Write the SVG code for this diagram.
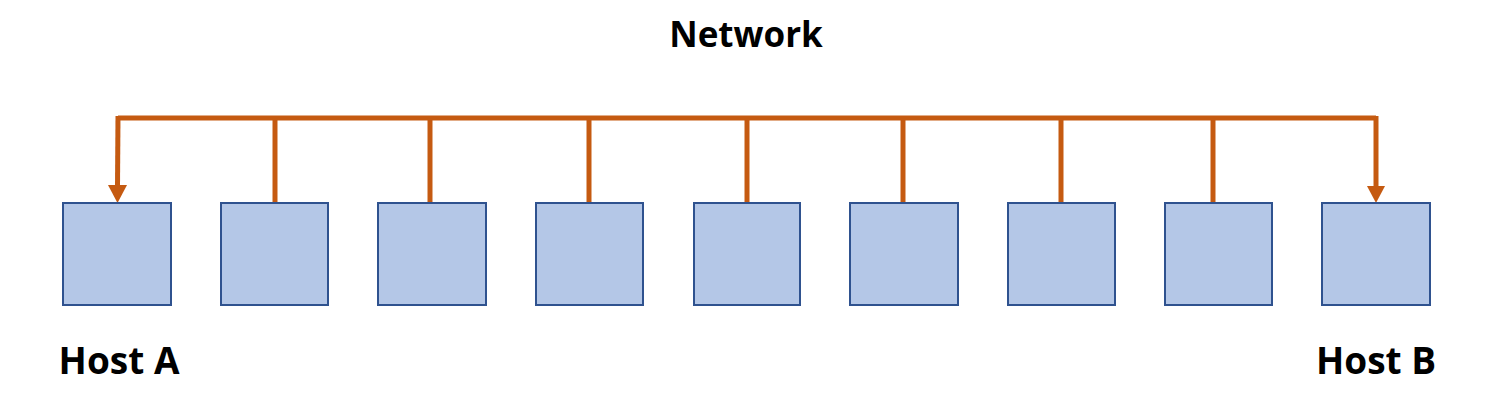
<svg xmlns="http://www.w3.org/2000/svg" width="1495" height="405" viewBox="0 0 1495 405">
<style>
.host{fill:#B4C7E7;stroke:#2F528F;stroke-width:2}
.wire{stroke:#C55A11;stroke-width:5;fill:none}
.lbl{font-family:"Open Sans","Noto Sans",sans-serif;font-weight:bold;font-size:37px;fill:#000;text-anchor:middle}
</style>
<rect width="1495" height="405" fill="#fff"/>
<g id="connectors">
<polyline class="wire" points="1376,118 118,118"/>
<path d="M118,116 L117.5,186" class="wire"/>
<path d="M108,185 L127,185 L117.5,203 Z" fill="#C55A11"/>
<path d="M1376,116 L1376,187" class="wire"/>
<path d="M1367,186 L1385,186 L1376,203 Z" fill="#C55A11"/>
<line class="wire" x1="275" y1="118" x2="275" y2="202"/>
<line class="wire" x1="430" y1="118" x2="430" y2="202"/>
<line class="wire" x1="589" y1="118" x2="589" y2="202"/>
<line class="wire" x1="747" y1="118" x2="747" y2="202"/>
<line class="wire" x1="903" y1="118" x2="903" y2="202"/>
<line class="wire" x1="1061" y1="118" x2="1061" y2="202"/>
<line class="wire" x1="1213" y1="118" x2="1213" y2="202"/>
</g>
<g id="host1"><rect class="host" x="63" y="203" width="108" height="102"/></g>
<g id="host2"><rect class="host" x="221" y="203" width="107" height="102"/></g>
<g id="host3"><rect class="host" x="378" y="203" width="108" height="102"/></g>
<g id="host4"><rect class="host" x="536" y="203" width="107" height="102"/></g>
<g id="host5"><rect class="host" x="694" y="203" width="106" height="102"/></g>
<g id="host6"><rect class="host" x="850" y="203" width="108" height="102"/></g>
<g id="host7"><rect class="host" x="1008" y="203" width="107" height="102"/></g>
<g id="host8"><rect class="host" x="1165" y="203" width="107" height="102"/></g>
<g id="host9"><rect class="host" x="1322" y="203" width="108" height="102"/></g>
<g id="network-label"><text class="lbl" x="746" y="47" style="font-size:35px">Network</text></g>
<g id="hostA-label"><text class="lbl" x="119" y="374">Host A</text></g>
<g id="hostB-label"><text class="lbl" x="1376" y="374">Host B</text></g>
</svg>
